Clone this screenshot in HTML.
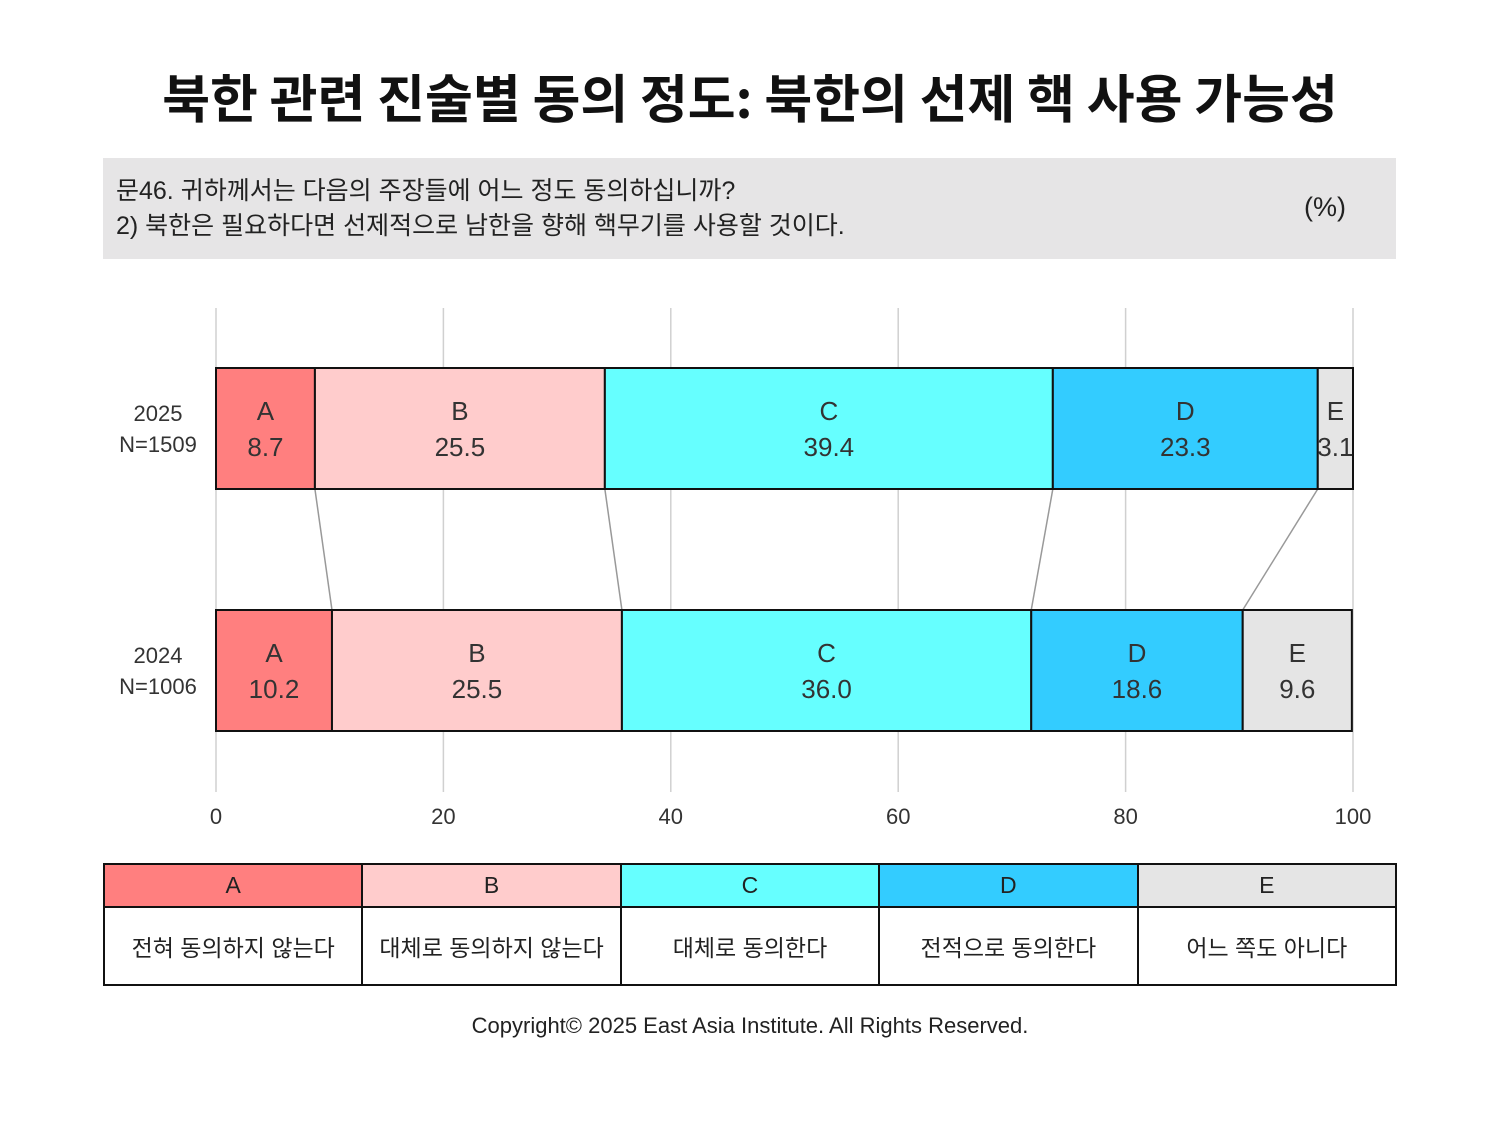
<!DOCTYPE html>
<html><head><meta charset="utf-8">
<style>
body{margin:0;background:#fff;font-family:"Liberation Sans","Noto Sans CJK KR",sans-serif;}
#wrap{position:relative;width:1500px;height:1125px;overflow:hidden;}
.title{position:absolute;left:0;width:1500px;top:58px;text-align:center;font-size:52px;font-weight:bold;color:#111;font-family:"Noto Sans CJK KR","Liberation Sans",sans-serif;}
.qbox{position:absolute;left:103px;top:158px;width:1293px;height:101px;background:#e6e5e6;}
.q{position:absolute;left:13px;top:16px;font-size:25px;line-height:35px;color:#222;font-family:"Liberation Sans","Noto Sans CJK KR",sans-serif;}
.pct{position:absolute;right:50px;top:34px;font-size:27px;color:#222;}
table{position:absolute;left:103px;top:863px;width:1294px;border-collapse:collapse;table-layout:fixed;}
td{border:2px solid #111;text-align:center;font-size:23px;color:#222;}
tr.h td{height:39px;font-size:23px;}
tr.b td{height:74px;}
.copy{position:absolute;left:0;width:1500px;top:1013px;text-align:center;font-size:22px;color:#222;}
</style></head><body>
<div id="wrap">
<div class="title">북한 관련 진술별 동의 정도: 북한의 선제 핵 사용 가능성</div>
<div class="qbox">
<div class="q">문46. 귀하께서는 다음의 주장들에 어느 정도 동의하십니까?<br>2) 북한은 필요하다면 선제적으로 남한을 향해 핵무기를 사용할 것이다.</div>
<div class="pct">(%)</div>
</div>
<svg id="chart" width="1500" height="860" style="position:absolute;left:0;top:0"></svg>
<table>
<tr class="h">
<td style="background:#ff7f7f">A</td>
<td style="background:#ffcccc">B</td>
<td style="background:#66ffff">C</td>
<td style="background:#33ccff">D</td>
<td style="background:#e5e5e5">E</td></tr>
<tr class="b">
<td>전혀 동의하지 않는다</td>
<td>대체로 동의하지 않는다</td>
<td>대체로 동의한다</td>
<td>전적으로 동의한다</td>
<td>어느 쪽도 아니다</td></tr>
</table>
<div class="copy">Copyright© 2025 East Asia Institute. All Rights Reserved.</div>
</div>
<script>
const categories = ["A","B","C","D","E"];
const rowLabels = ["2025","2024"];
const rowNs = ["N=1509","N=1006"];
const values2025 = [8.7,25.5,39.4,23.3,3.1];
const values2024 = [10.2,25.5,36.0,18.6,9.6];
const ticks = [0,20,40,60,80,100];
const colors = ["#ff7f7f","#ffcccc","#66ffff","#33ccff","#e5e5e5"];
const series = [values2025, values2024];
const NS="http://www.w3.org/2000/svg";
const svg=document.getElementById('chart');
const x=v=>216+v*(1353-216)/100;
const rowTop=[368,610], bh=121;
function mk(t,a,p){const e=document.createElementNS(NS,t);for(const k in a)e.setAttribute(k,a[k]);(p||svg).appendChild(e);return e;}
ticks.forEach(t=>{
  const l=mk('line',{x1:x(t),x2:x(t),y1:308,y2:792,stroke:'#d0d0d0','stroke-width':1.5});
  
  
  const tx=mk('text',{x:x(t),y:824,'text-anchor':'middle','font-size':22,fill:'#333'});
  tx.textContent=t;
  
  
});
// connectors
let c1=0,c2=0;
for(let i=0;i<categories.length-1;i++){
  c1+=values2025[i];c2+=values2024[i];
  const l=mk('line',{x1:x(c1),y1:rowTop[0]+bh,x2:x(c2),y2:rowTop[1],stroke:'#999','stroke-width':1.5});
  
  
}
series.forEach((vals,r)=>{
  let cum=0;const y=rowTop[r];
  const lab=mk('text',{x:158,y:y+53,'text-anchor':'middle','font-size':22,fill:'#333'});
  lab.textContent=rowLabels[r];
  
  
  const n=mk('text',{x:158,y:y+84,'text-anchor':'middle','font-size':22,fill:'#333'});
  n.textContent=rowNs[r];
  
  
  vals.forEach((v,i)=>{
    const x0=x(cum),x1=x(cum+v);cum+=v;
    const rc=mk('rect',{x:x0,y:y,width:x1-x0,height:bh,fill:colors[i],stroke:'#111','stroke-width':2});
    
    
    const cx=(x0+x1)/2;
    const t1=mk('text',{x:cx,y:y+52,'text-anchor':'middle','font-size':26,fill:'#333'});
    t1.textContent=categories[i];
    
    
    const t2=mk('text',{x:cx,y:y+88,'text-anchor':'middle','font-size':26,fill:'#333'});
    t2.textContent=v.toFixed(1);
    
    
  });
});
</script>
</body></html>
